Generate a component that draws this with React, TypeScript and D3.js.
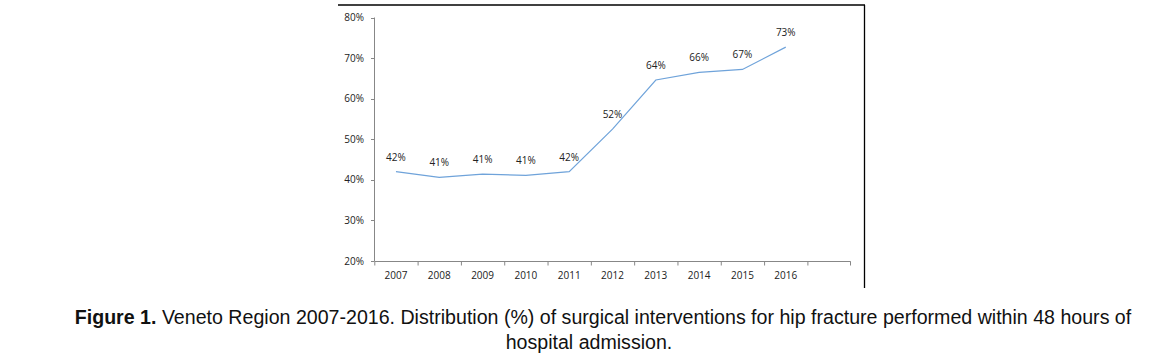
import React from "react";
import * as d3 from "d3";

const categories = ["2007", "2008", "2009", "2010", "2011", "2012", "2013", "2014", "2015", "2016", ""];
const years = ["2007", "2008", "2009", "2010", "2011", "2012", "2013", "2014", "2015", "2016"];
const values = [42.0, 40.6, 41.4, 41.1, 42.0, 52.5, 64.6, 66.5, 67.2, 72.7];
const labels = ["42%", "41%", "41%", "41%", "42%", "52%", "64%", "66%", "67%", "73%"];
const yTicks = [20, 30, 40, 50, 60, 70, 80];

export default function App() {
  const W = 1176, H = 358;
  const x = d3.scaleBand<string>().domain(categories).range([374.3, 850.7]).paddingInner(0).paddingOuter(0);
  const y = d3.scaleLinear().domain([20, 80]).range([261, 17.5]);
  const line = d3
    .line<number>()
    .x((_, i) => (x(years[i]) as number) + x.bandwidth() / 2)
    .y((d) => y(d));
  const axisColor = "#878787";
  const chartFont = "'Open Sans', 'DejaVu Sans', sans-serif";
  const capFont = "'Liberation Sans', Arial, sans-serif";
  return (
    <svg width={W} height={H} style={{ display: "block", position: "absolute", left: 0, top: 0 }}>
      <rect x={0} y={0} width={W} height={H} fill="#fff" />
      {/* frame */}
      <line x1={338} x2={865} y1={5} y2={5} stroke="#000" strokeWidth={1.3} />
      <line x1={864.5} x2={864.5} y1={5} y2={288} stroke="#000" strokeWidth={1.3} />
      {/* y axis */}
      <line x1={374.5} x2={374.5} y1={y(80)} y2={y(20)} stroke={axisColor} strokeWidth={1} />
      {yTicks.map((t) => (
        <g key={t}>
          <line x1={371} x2={374.5} y1={Math.round(y(t)) + 0.5} y2={Math.round(y(t)) + 0.5} stroke={axisColor} />
          <text x={364} y={y(t)} dy="0.35em" textAnchor="end" fontSize={10} fill="#222" fontFamily={chartFont}>
            {t}%
          </text>
        </g>
      ))}
      {/* x axis */}
      <line x1={374.5} x2={850.7} y1={261.5} y2={261.5} stroke={axisColor} />
      {categories.map((c, i) => (
        <line key={"t" + i} x1={(x(c) as number) + 0.5} x2={(x(c) as number) + 0.5} y1={261.5} y2={265.5} stroke={axisColor} />
      ))}
      <line x1={850.5} x2={850.5} y1={261.5} y2={265.5} stroke={axisColor} />
      {years.map((c) => (
        <text key={c} x={(x(c) as number) + x.bandwidth() / 2} y={275} dy="0.35em" textAnchor="middle" fontSize={10} fill="#222" fontFamily={chartFont}>
          {c}
        </text>
      ))}
      {/* line */}
      <path d={line(values) || ""} fill="none" stroke="#6fa3da" strokeWidth={1.2} />
      {values.map((v, i) => (
        <text key={"l" + i} x={(x(years[i]) as number) + x.bandwidth() / 2} y={y(v) - 14.5} dy="0.35em" textAnchor="middle" fontSize={10} fill="#222" fontFamily={chartFont}>
          {labels[i]}
        </text>
      ))}
      {/* caption */}
      <text x={603} y={324} textAnchor="middle" fontSize={19.6} fontFamily={capFont} fill="#111">
        <tspan fontWeight="bold">Figure 1.</tspan>
        <tspan> Veneto Region 2007-2016. Distribution (%) of surgical interventions for hip fracture performed within 48 hours of</tspan>
      </text>
      <text x={589} y={349} textAnchor="middle" fontSize={19.6} fontFamily={capFont} fill="#111">
        hospital admission.
      </text>
    </svg>
  );
}
